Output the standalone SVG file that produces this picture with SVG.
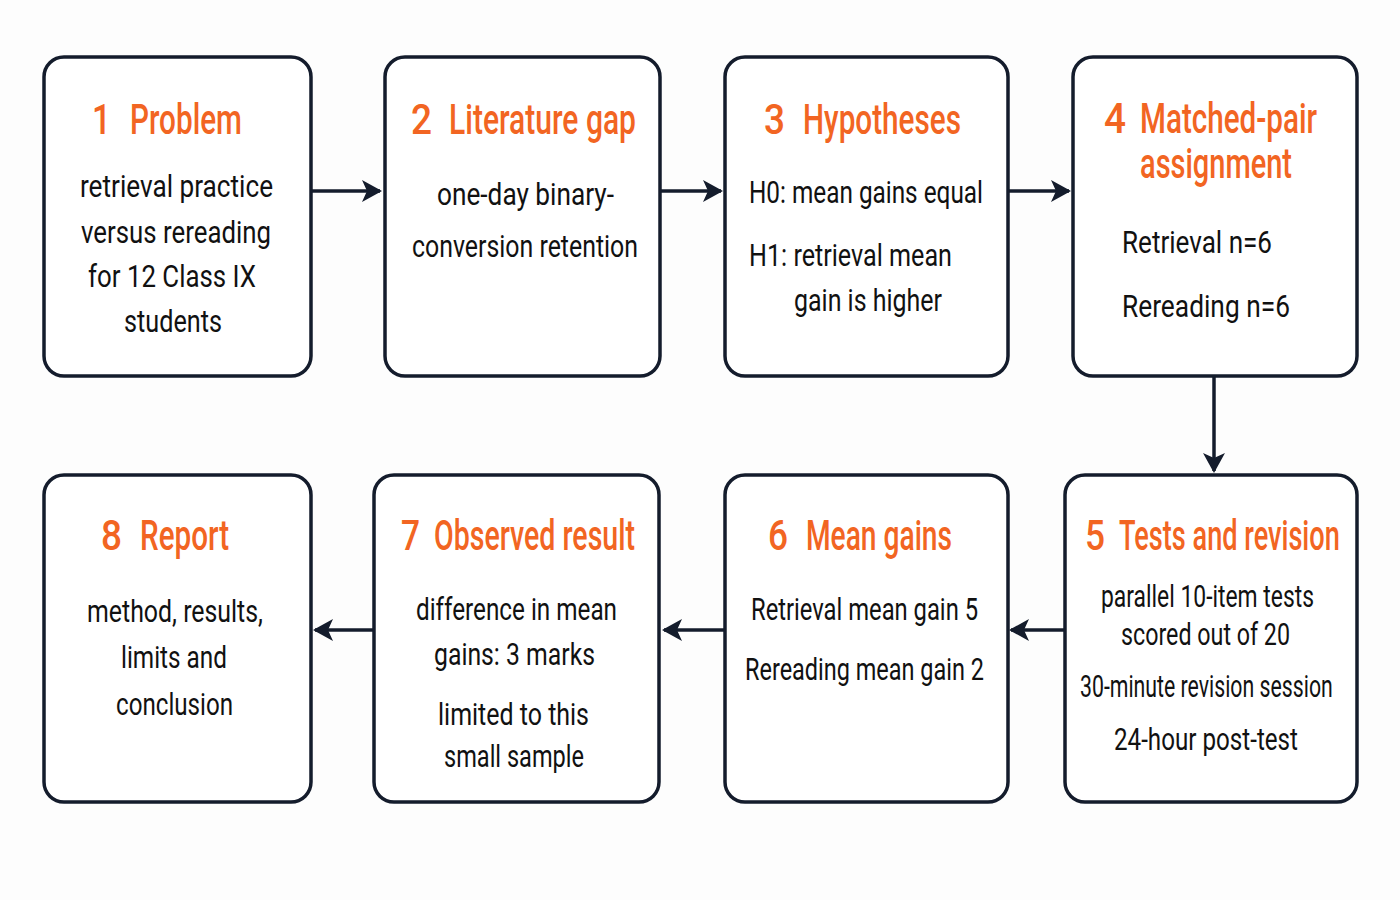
<svg xmlns="http://www.w3.org/2000/svg" width="1400" height="900" viewBox="0 0 1400 900">
<style>
.box{fill:#ffffff;stroke:#141c2c;stroke-width:3.5}
.t{font-family:"Roboto","Liberation Sans",sans-serif;font-weight:500;font-size:42px;fill:#f26522}
.b{font-family:"Roboto","Liberation Sans",sans-serif;font-weight:400;font-size:31px;fill:#111111}
.c{stroke:#141c2c;stroke-width:3.5;fill:none}
</style>
<defs>
<marker id="ah" viewBox="0 0 20 22" refX="18" refY="11" markerWidth="20" markerHeight="22" markerUnits="userSpaceOnUse" orient="auto">
<path d="M0,0 L20,11 L0,22 L5,11 Z" fill="#141c2c"/>
</marker>
</defs>
<rect width="1400" height="900" fill="#fdfdfd"/>
<g id="connectors">
<line class="c" x1="312" y1="191" x2="380" y2="191" marker-end="url(#ah)"/>
<line class="c" x1="661" y1="191" x2="721" y2="191" marker-end="url(#ah)"/>
<line class="c" x1="1009" y1="191" x2="1069" y2="191" marker-end="url(#ah)"/>
<line class="c" x1="1214" y1="377" x2="1214" y2="471" marker-end="url(#ah)"/>
<line class="c" x1="1064" y1="630" x2="1011" y2="630" marker-end="url(#ah)"/>
<line class="c" x1="724" y1="630" x2="664" y2="630" marker-end="url(#ah)"/>
<line class="c" x1="373" y1="630" x2="315" y2="630" marker-end="url(#ah)"/>
</g>
<g id="node1">
<rect class="box" x="44" y="57" width="267" height="319" rx="20"/>
<text class="t" x="92" y="134" textLength="19" lengthAdjust="spacingAndGlyphs">1</text>
<text class="t" x="130" y="134" textLength="112" lengthAdjust="spacingAndGlyphs">Problem</text>
<text class="b" x="80" y="197" textLength="193" lengthAdjust="spacingAndGlyphs">retrieval practice</text>
<text class="b" x="81" y="243" textLength="190" lengthAdjust="spacingAndGlyphs">versus rereading</text>
<text class="b" x="88" y="287" textLength="168" lengthAdjust="spacingAndGlyphs">for 12 Class IX</text>
<text class="b" x="124" y="332" textLength="98" lengthAdjust="spacingAndGlyphs">students</text>
</g>
<g id="node2">
<rect class="box" x="385" y="57" width="275" height="319" rx="20"/>
<text class="t" x="411" y="134" textLength="21" lengthAdjust="spacingAndGlyphs">2</text>
<text class="t" x="449" y="134" textLength="187" lengthAdjust="spacingAndGlyphs">Literature gap</text>
<text class="b" x="437" y="205" textLength="177" lengthAdjust="spacingAndGlyphs">one-day binary-</text>
<text class="b" x="412" y="257" textLength="226" lengthAdjust="spacingAndGlyphs">conversion retention</text>
</g>
<g id="node3">
<rect class="box" x="725" y="57" width="283" height="319" rx="20"/>
<text class="t" x="764" y="134" textLength="21" lengthAdjust="spacingAndGlyphs">3</text>
<text class="t" x="803" y="134" textLength="158" lengthAdjust="spacingAndGlyphs">Hypotheses</text>
<text class="b" x="749" y="203" textLength="234" lengthAdjust="spacingAndGlyphs">H0: mean gains equal</text>
<text class="b" x="749" y="266" textLength="203" lengthAdjust="spacingAndGlyphs">H1: retrieval mean</text>
<text class="b" x="794" y="311" textLength="148" lengthAdjust="spacingAndGlyphs">gain is higher</text>
</g>
<g id="node4">
<rect class="box" x="1073" y="57" width="284" height="319" rx="20"/>
<text class="t" x="1104" y="133" textLength="22" lengthAdjust="spacingAndGlyphs">4</text>
<text class="t" x="1140" y="133" textLength="177" lengthAdjust="spacingAndGlyphs">Matched-pair</text>
<text class="t" x="1140" y="178" textLength="152" lengthAdjust="spacingAndGlyphs">assignment</text>
<text class="b" x="1122" y="253" textLength="150" lengthAdjust="spacingAndGlyphs">Retrieval n=6</text>
<text class="b" x="1122" y="317" textLength="168" lengthAdjust="spacingAndGlyphs">Rereading n=6</text>
</g>
<g id="node5">
<rect class="box" x="1065" y="475" width="292" height="327" rx="20"/>
<text class="t" x="1085" y="550" textLength="20" lengthAdjust="spacingAndGlyphs">5</text>
<text class="t" transform="translate(1119,550) scale(0.8,1)" x="0" y="0" textLength="276" lengthAdjust="spacingAndGlyphs">Tests and revision</text>
<text class="b" x="1101" y="607" textLength="213" lengthAdjust="spacingAndGlyphs">parallel 10-item tests</text>
<text class="b" x="1121" y="645" textLength="169" lengthAdjust="spacingAndGlyphs">scored out of 20</text>
<text class="b" transform="translate(1080,697) scale(0.75,1)" x="0" y="0" textLength="337" lengthAdjust="spacingAndGlyphs">30-minute revision session</text>
<text class="b" x="1114" y="750" textLength="184" lengthAdjust="spacingAndGlyphs">24-hour post-test</text>
</g>
<g id="node6">
<rect class="box" x="725" y="475" width="283" height="327" rx="20"/>
<text class="t" x="768" y="550" textLength="20" lengthAdjust="spacingAndGlyphs">6</text>
<text class="t" x="806" y="550" textLength="146" lengthAdjust="spacingAndGlyphs">Mean gains</text>
<text class="b" x="751" y="620" textLength="227" lengthAdjust="spacingAndGlyphs">Retrieval mean gain 5</text>
<text class="b" x="745" y="680" textLength="239" lengthAdjust="spacingAndGlyphs">Rereading mean gain 2</text>
</g>
<g id="node7">
<rect class="box" x="374" y="475" width="285" height="327" rx="20"/>
<text class="t" x="401" y="550" textLength="19" lengthAdjust="spacingAndGlyphs">7</text>
<text class="t" x="434" y="550" textLength="201" lengthAdjust="spacingAndGlyphs">Observed result</text>
<text class="b" x="416" y="620" textLength="201" lengthAdjust="spacingAndGlyphs">difference in mean</text>
<text class="b" x="434" y="665" textLength="161" lengthAdjust="spacingAndGlyphs">gains: 3 marks</text>
<text class="b" x="438" y="725" textLength="151" lengthAdjust="spacingAndGlyphs">limited to this</text>
<text class="b" x="444" y="767" textLength="140" lengthAdjust="spacingAndGlyphs">small sample</text>
</g>
<g id="node8">
<rect class="box" x="44" y="475" width="267" height="327" rx="20"/>
<text class="t" x="101" y="550" textLength="21" lengthAdjust="spacingAndGlyphs">8</text>
<text class="t" x="140" y="550" textLength="89" lengthAdjust="spacingAndGlyphs">Report</text>
<text class="b" x="87" y="622" textLength="176" lengthAdjust="spacingAndGlyphs">method, results,</text>
<text class="b" x="121" y="668" textLength="106" lengthAdjust="spacingAndGlyphs">limits and</text>
<text class="b" x="116" y="715" textLength="117" lengthAdjust="spacingAndGlyphs">conclusion</text>
</g>
</svg>
